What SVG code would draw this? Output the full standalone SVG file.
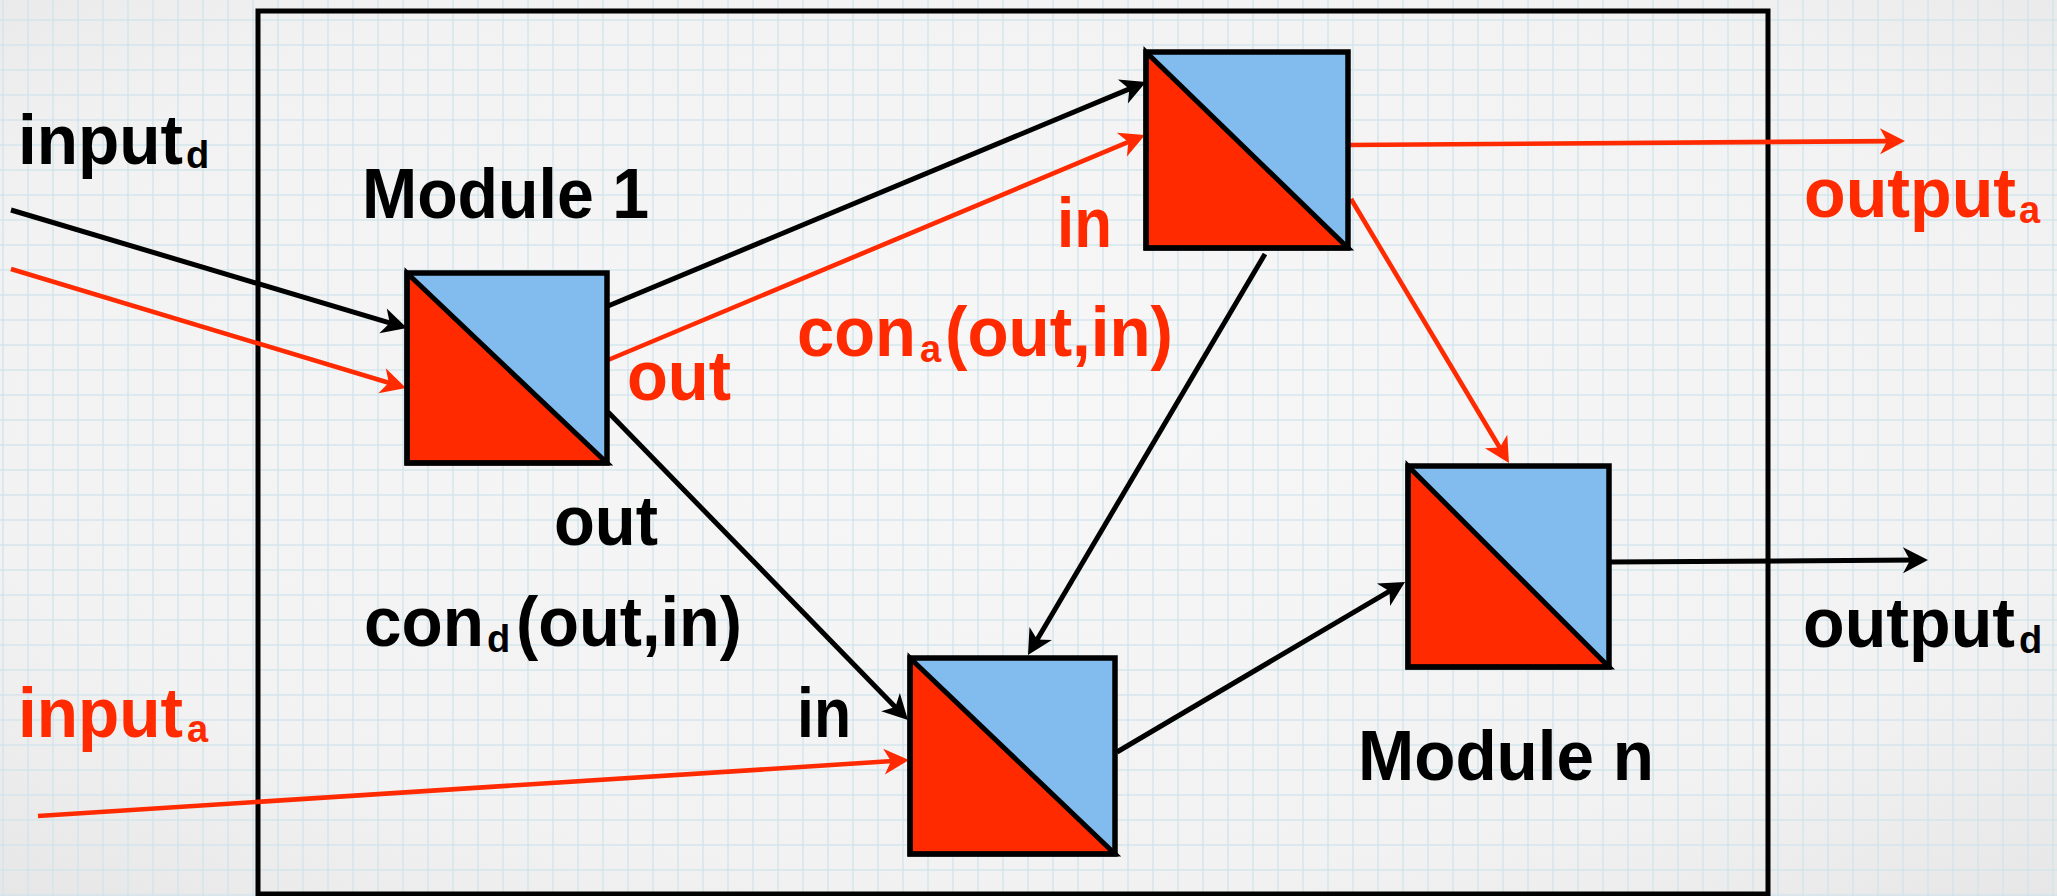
<svg xmlns="http://www.w3.org/2000/svg" width="2057" height="896" viewBox="0 0 2057 896">
  <defs>
    <radialGradient id="paper" cx="0.5" cy="0.45" r="0.75">
      <stop offset="0" stop-color="#f7f7f7"/>
      <stop offset="0.7" stop-color="#f2f2f2"/>
      <stop offset="1" stop-color="#e6e6e6"/>
    </radialGradient>
    <pattern id="grid" x="2" y="19" width="25" height="25" patternUnits="userSpaceOnUse">
      <rect x="0" y="0" width="2" height="25" fill="#cfe3ec" opacity="0.65"/>
      <rect x="0" y="0" width="25" height="2" fill="#cfe3ec" opacity="0.65"/>
    </pattern>
    <marker id="head-black" viewBox="-15 -15 30 30" markerWidth="30" markerHeight="30" refX="0" refY="0" orient="auto" markerUnits="userSpaceOnUse">
      <path d="M12,0 L-13,-13 L-6,0 L-13,13 Z" fill="#000"/>
    </marker>
    <marker id="head-red" viewBox="-15 -15 30 30" markerWidth="30" markerHeight="30" refX="0" refY="0" orient="auto" markerUnits="userSpaceOnUse">
      <path d="M12,0 L-13,-13 L-6,0 L-13,13 Z" fill="#ff2a00"/>
    </marker>
  </defs>
  <style>
    .frame { fill: none; stroke: #000; stroke-width: 5; }
    .blue { fill: #82bbed; }
    .red-tri { fill: #ff2a00; stroke: #000; stroke-width: 5; stroke-linejoin: miter; }
    .edge { fill: none; stroke: #000; stroke-width: 5.5; }
    .wire-d { fill: none; stroke: #000; stroke-width: 5; marker-end: url(#head-black); }
    .wire-a { fill: none; stroke: #ff2a00; stroke-width: 4.6; marker-end: url(#head-red); }
    text { font-family: "Liberation Sans", Arial, sans-serif; font-weight: bold; }
    .big { font-size: 70px; }
    .sub { font-size: 38px; }
    .k { fill: #000; }
    .r { fill: #ff2a00; }
  </style>

  <!-- paper background with a fine grid -->
  <rect x="0" y="0" width="2057" height="896" fill="url(#paper)"/>
  <rect x="0" y="0" width="2057" height="896" fill="url(#grid)"/>

  <!-- system boundary -->
  <rect class="frame" x="258" y="11" width="1510" height="883"/>

  <!-- connectors -->
  <g id="connectors">
    <line class="wire-d" x1="11" y1="210" x2="395.5" y2="324.6"/>
    <line class="wire-a" x1="11" y1="269" x2="394.5" y2="384.5"/>
    <line class="wire-d" x1="608" y1="306" x2="1134.9" y2="86.6"/>
    <line class="wire-a" x1="608" y1="360" x2="1133.9" y2="139.6"/>
    <line class="wire-a" x1="1348" y1="145" x2="1893" y2="141.1"/>
    <line class="wire-a" x1="1351" y1="199" x2="1502.8" y2="452.7"/>
    <line class="wire-d" x1="1265" y1="254" x2="1034.1" y2="644.7"/>
    <line class="wire-d" x1="608" y1="412" x2="899.6" y2="711.4"/>
    <line class="wire-a" x1="38" y1="816" x2="897" y2="760.8"/>
    <line class="wire-d" x1="1117" y1="752" x2="1394.7" y2="588.1"/>
    <line class="wire-d" x1="1609" y1="562" x2="1916" y2="560.1"/>
  </g>

  <!-- modules: blue upper half, red lower half split on the diagonal -->
  <g id="module-1">
    <rect class="blue" x="407" y="273" width="200" height="190"/>
    <polygon class="red-tri" points="407,273 607,463 407,463"/>
    <rect class="edge" x="407" y="273" width="200" height="190"/>
  </g>
  <g id="module-2">
    <rect class="blue" x="1146" y="52" width="202" height="196"/>
    <polygon class="red-tri" points="1146,52 1348,248 1146,248"/>
    <rect class="edge" x="1146" y="52" width="202" height="196"/>
  </g>
  <g id="module-3">
    <rect class="blue" x="910" y="658" width="205" height="196"/>
    <polygon class="red-tri" points="910,658 1115,854 910,854"/>
    <rect class="edge" x="910" y="658" width="205" height="196"/>
  </g>
  <g id="module-n">
    <rect class="blue" x="1408" y="466" width="201" height="201"/>
    <polygon class="red-tri" points="1408,466 1609,667 1408,667"/>
    <rect class="edge" x="1408" y="466" width="201" height="201"/>
  </g>

  <!-- labels -->
  <g id="labels">
    <text class="big k" x="18" y="164" textLength="165" lengthAdjust="spacingAndGlyphs">input</text>
    <text class="sub k" x="186" y="168">d</text>

    <text class="big r" x="18" y="737" textLength="165" lengthAdjust="spacingAndGlyphs">input</text>
    <text class="sub r" x="187" y="742">a</text>

    <text class="big k" x="362" y="218" textLength="287" lengthAdjust="spacingAndGlyphs">Module 1</text>
    <text class="big k" x="1358" y="780" textLength="296" lengthAdjust="spacingAndGlyphs">Module n</text>

    <text class="big r" x="627" y="400" textLength="104" lengthAdjust="spacingAndGlyphs">out</text>
    <text class="big k" x="554" y="545" textLength="104" lengthAdjust="spacingAndGlyphs">out</text>

    <text class="big k" x="364" y="646" textLength="120" lengthAdjust="spacingAndGlyphs">con</text>
    <text class="sub k" x="487" y="652">d</text>
    <text class="big k" x="516" y="646" textLength="226" lengthAdjust="spacingAndGlyphs">(out,in)</text>

    <text class="big r" x="1057" y="247" textLength="55" lengthAdjust="spacingAndGlyphs">in</text>
    <text class="big k" x="797" y="737" textLength="54" lengthAdjust="spacingAndGlyphs">in</text>

    <text class="big r" x="797" y="356" textLength="119" lengthAdjust="spacingAndGlyphs">con</text>
    <text class="sub r" x="920" y="362">a</text>
    <text class="big r" x="945" y="356" textLength="228" lengthAdjust="spacingAndGlyphs">(out,in)</text>

    <text class="big r" x="1804" y="217" textLength="212" lengthAdjust="spacingAndGlyphs">output</text>
    <text class="sub r" x="2019" y="223">a</text>

    <text class="big k" x="1803" y="647" textLength="212" lengthAdjust="spacingAndGlyphs">output</text>
    <text class="sub k" x="2019" y="653">d</text>
  </g>
</svg>
